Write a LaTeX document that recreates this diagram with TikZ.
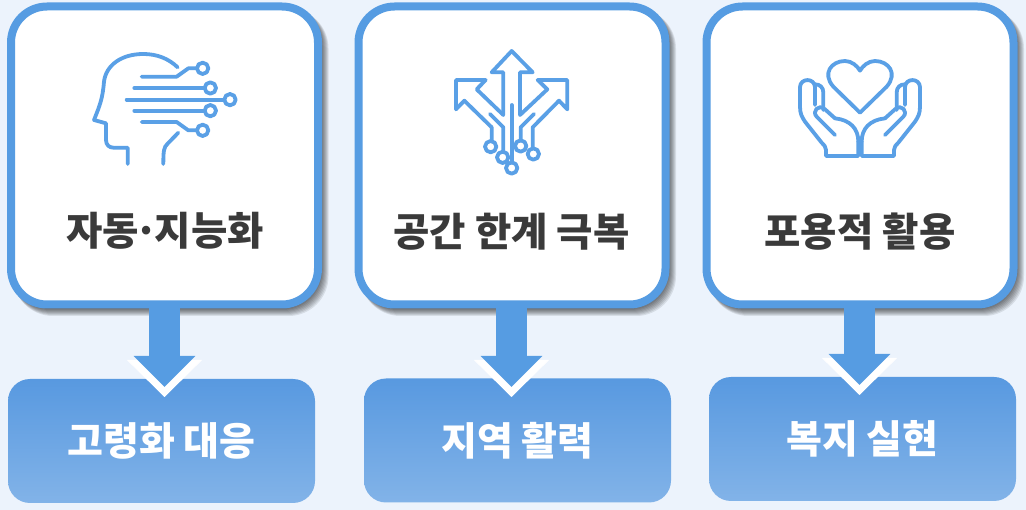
\documentclass[tikz,border=0pt]{standalone}
\usepackage{fontspec}
\newfontfamily\cjk{Noto Sans CJK KR}
\usetikzlibrary{arrows.meta}
\definecolor{bgblue}{HTML}{ECF3FC}
\definecolor{mainblue}{HTML}{569CE2}
\definecolor{iconblue}{HTML}{5AA0E6}
\definecolor{boxtop}{HTML}{5899E0}
\definecolor{boxbottom}{HTML}{82B3E8}
\definecolor{inkgray}{HTML}{3A3A3A}
\tikzset{
	card/.style={draw=mainblue,line width=8pt,fill=white,rounded corners=36pt,minimum width=307pt,minimum height=298pt,inner sep=0pt},
	result/.style={rounded corners=22pt,top color=boxtop,bottom color=boxbottom,minimum width=307pt,minimum height=124pt,inner sep=0pt,font=\cjk\bfseries\fontsize{39}{39}\selectfont,text=white},
	cardtext/.style={font=\cjk\bfseries\fontsize{39.5}{39.5}\selectfont,text=inkgray,inner sep=0pt},
	flow/.style={mainblue,line width=31pt,-{Triangle[width=60pt,length=31pt]}},
	flowhalo/.style={white,line width=1pt,-{Triangle[width=75pt,length=37pt]}},
	icon/.style={iconblue,line width=3.8pt,line cap=round,line join=round}
}
\begin{document}
\begin{tikzpicture}[x=1pt,y=-1pt]
	\useasboundingbox (0,0) rectangle (1026,510);
	\fill[bgblue] (0,0) rectangle (1026,510);
	% shadows of the cards
	\foreach \cx in {164.5,512,860}{
		\foreach \g in {0,1,...,7}{
			\fill[black,opacity=0.09,rounded corners=40pt] (\cx-155+\g*0.5,5+\g*0.5) rectangle (\cx+157+\g,309+\g);
		}
	}
	\node[card] (card1) at (164.5,155.5) {};
	\node[card] (card2) at (512,155.5) {};
	\node[card] (card3) at (860,155.5) {};
	\node[cardtext] (title1) at (165,231) {자동\kern-4pt·\kern-4pt지능화};
	\node[cardtext] (title2) at (511.5,232) {공간 한계 극복};
	\node[cardtext] (title3) at (860,232) {포용적 활용};
	\node[result] (box1) at (161.5,441) {고령화 대응};
	\node[result] (box2) at (517.5,440.5) {지역 활력};
	\node[result] (box3) at (862.5,439) {복지 실현};
	% arrows
	\coordinate (tip1) at (164.5,387);
	\coordinate (tip2) at (511.5,387);
	\coordinate (tip3) at (859.5,385);
	\coordinate (halo1) at (164.5,397);
	\coordinate (halo2) at (511.5,397);
	\coordinate (halo3) at (859.5,395);
	\foreach \n in {1,2,3}{
		\draw[flowhalo] (card\n.south -| tip\n) -- (halo\n);
		\draw[flow] (card\n.south -| tip\n) -- (tip\n);
	}
	% head
	\begin{scope}[shift={(80,40)},scale=1/3,icon]
		\draw (293,82) .. controls (265,55) and (230,42) .. (190,42) .. controls (125,42) and (78,75) .. (72,125) .. controls (68,175) and (60,195) .. (42,240) -- (78,250) -- (78,300) .. controls (78,315) and (88,323) .. (100,323) -- (143,323) -- (143,372);
		\draw (295,278) -- (262,312) .. controls (252,322) and (250,330) .. (250,372);
		\draw (185,110) -- (290,110) -- (325,85) -- (351,85);
		\draw (163,144) -- (374,144);
		\draw (140,179) -- (433,179);
		\draw (163,212) -- (374,212);
		\draw (185,246) -- (290,246) -- (325,271) -- (351,271);
		\draw (368,85) circle (17) (391,144) circle (17) (450,179) circle (17) (391,212) circle (17) (368,271) circle (17);
	\end{scope}
	% arrows icon
	\begin{scope}[shift={(440,40)},scale=1/3,icon]
		\draw (190,225) -- (190,97) -- (155,97) -- (215,33) -- (278,97) -- (240,97) -- (240,225);
		\draw (190,225) -- (110,148) -- (137,120) -- (48,120) -- (48,208) -- (73,182) -- (155,262) -- (155,304);
		\draw (240,225) -- (322,148) -- (293,120) -- (382,120) -- (382,208) -- (357,182) -- (278,262) -- (278,326);
		\draw (150,222) -- (190,262) -- (190,336);
		\draw (282,222) -- (242,262) -- (242,302);
		\draw (215,195) -- (215,368);
		\draw (152,320) circle (17) (188,352) circle (17) (215,384) circle (17) (242,318) circle (17) (280,342) circle (17);
	\end{scope}
	% hands and heart
	\begin{scope}[shift={(860,50)},scale=1/3,icon]
		\draw (0,188) -- (-80,110) .. controls (-115,70) and (-85,33) .. (-45,33) .. controls (-25,33) and (-8,48) .. (0,62) .. controls (8,48) and (25,33) .. (45,33) .. controls (85,33) and (115,70) .. (80,110) -- cycle;
		\foreach \s in {1,-1}{
			\begin{scope}[xscale=\s]
				\draw (-5,275) -- (-5,318) -- (-102,318) -- (-102,300) .. controls (-102,290) and (-108,285) .. (-115,278) -- (-165,215) .. controls (-175,200) and (-180,190) .. (-180,170) -- (-180,112) .. controls (-180,83) and (-135,83) .. (-135,112) -- (-135,165);
				\draw (-135,103) .. controls (-120,103) and (-110,112) .. (-110,128) -- (-110,180);
				\draw (-75,255) -- (-130,200) .. controls (-145,185) and (-125,160) .. (-105,178) -- (-75,205) .. controls (-30,210) and (-5,235) .. (-5,275);
			\end{scope}
		}
	\end{scope}
\end{tikzpicture}
\end{document}
